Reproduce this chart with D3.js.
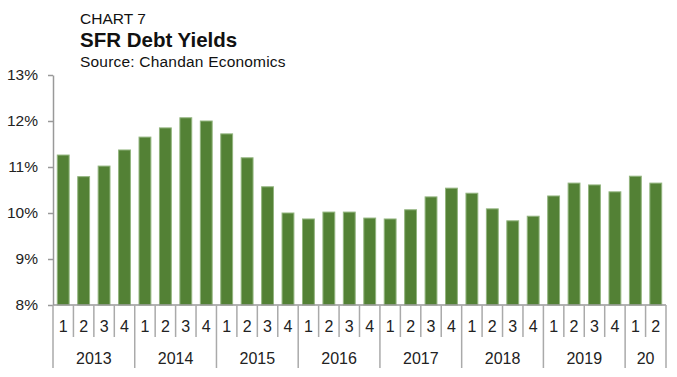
<!DOCTYPE html>
<html lang="en">
  <head>
    <meta charset="utf-8" />
    <title>SFR Debt Yields</title>
    <script src="https://d3js.org/d3.v7.min.js"></script>
    <style>
      body { margin: 0; background: #fff; }
      svg { display: block; font-family: "Liberation Sans", Arial, sans-serif; }
    </style>
  </head>
  <body>
    <div id="chart"></div>
    <script>
      const years = ["2013", "2014", "2015", "2016", "2017", "2018", "2019", "20"];
      const quartersPerYear = [4, 4, 4, 4, 4, 4, 4, 2];
      const yields = [
        11.26, 10.79, 11.02, 11.37,
        11.65, 11.85, 12.07, 12.0,
        11.72, 11.2, 10.57, 10.0,
        9.87, 10.02, 10.02, 9.89,
        9.87, 10.07, 10.35, 10.54,
        10.43, 10.09, 9.83, 9.93,
        10.37, 10.65, 10.61, 10.46,
        10.8, 10.65
      ];
      const yTicks = [8, 9, 10, 11, 12, 13];

      const data = [];
      years.forEach((yr, i) => {
        for (let q = 1; q <= quartersPerYear[i]; q++) {
          data.push({ year: yr, q: q, key: yr + "-" + q, value: yields[data.length] });
        }
      });

      const W = 677, H = 377;
      const plotLeft = 53, plotRight = 666, plotTop = 75, plotBottom = 305;

      const svg = d3.select("#chart").append("svg")
        .attr("width", W).attr("height", H);

      const x = d3.scaleBand()
        .domain(data.map(d => d.key))
        .range([plotLeft, plotRight])
        .paddingInner(0.42)
        .paddingOuter(0.21);

      const y = d3.scaleLinear().domain([8, 13]).range([plotBottom, plotTop]);

      // titles
      svg.append("text").attr("x", 80).attr("y", 24)
        .attr("font-size", 15.5).attr("fill", "#111").text("CHART 7");
      svg.append("text").attr("x", 80).attr("y", 46.5)
        .attr("font-size", 20.5).attr("font-weight", "bold").attr("fill", "#111").text("SFR Debt Yields");
      svg.append("text").attr("x", 80).attr("y", 67)
        .attr("font-size", 15.5).attr("letter-spacing", 0.2).attr("fill", "#111").text("Source: Chandan Economics");

      // bars
      svg.append("g").selectAll("rect")
        .data(data)
        .join("rect")
        .attr("x", d => x(d.key))
        .attr("y", d => y(d.value))
        .attr("width", x.bandwidth())
        .attr("height", d => y(8) - y(d.value))
        .attr("fill", "#538135")
        .attr("stroke", "#93b57f")
        .attr("stroke-width", 1);

      // y axis
      const yAxis = svg.append("g")
        .attr("transform", `translate(${plotLeft},0)`)
        .call(d3.axisLeft(y).tickValues(yTicks).tickSize(5).tickSizeOuter(0).tickFormat(d => d + "%"));
      yAxis.select(".domain").attr("stroke", "#999").attr("stroke-width", 1.5);
      yAxis.selectAll(".tick line").attr("stroke", "#999").attr("stroke-width", 1.5);
      yAxis.selectAll(".tick text")
        .attr("x", -15)
        .attr("font-size", 15.5)
        .attr("font-family", "Liberation Sans, Arial, sans-serif")
        .attr("fill", "#222");

      // x axis: baseline, quarter labels and separators
      const xAxis = svg.append("g");
      xAxis.append("line")
        .attr("x1", plotLeft).attr("x2", plotRight)
        .attr("y1", plotBottom).attr("y2", plotBottom)
        .attr("stroke", "#999").attr("stroke-width", 1.5);

      const edge = i => plotLeft + (plotRight - plotLeft) * i / data.length;
      // quarter separators
      for (let i = 0; i <= data.length; i++) {
        xAxis.append("line")
          .attr("x1", edge(i)).attr("x2", edge(i))
          .attr("y1", plotBottom).attr("y2", 337)
          .attr("stroke", "#aaa").attr("stroke-width", 1.5);
      }
      xAxis.selectAll("text.q")
        .data(data)
        .join("text")
        .attr("class", "q")
        .attr("x", d => x(d.key) + x.bandwidth() / 2)
        .attr("y", 332)
        .attr("text-anchor", "middle")
        .attr("font-size", 16)
        .attr("fill", "#222")
        .text(d => d.q);

      // year separators and labels
      let start = 0;
      years.forEach((yr, i) => {
        const n = quartersPerYear[i];
        xAxis.append("line")
          .attr("x1", edge(start)).attr("x2", edge(start))
          .attr("y1", 337).attr("y2", 368)
          .attr("stroke", "#aaa").attr("stroke-width", 1.5);
        xAxis.append("text")
          .attr("x", (edge(start) + edge(start + n)) / 2)
          .attr("y", 364)
          .attr("text-anchor", "middle")
          .attr("font-size", 16)
          .attr("fill", "#222")
          .text(yr);
        start += n;
      });
      xAxis.append("line")
        .attr("x1", edge(start)).attr("x2", edge(start))
        .attr("y1", 337).attr("y2", 368)
        .attr("stroke", "#aaa").attr("stroke-width", 1.5);
    </script>
  </body>
</html>
